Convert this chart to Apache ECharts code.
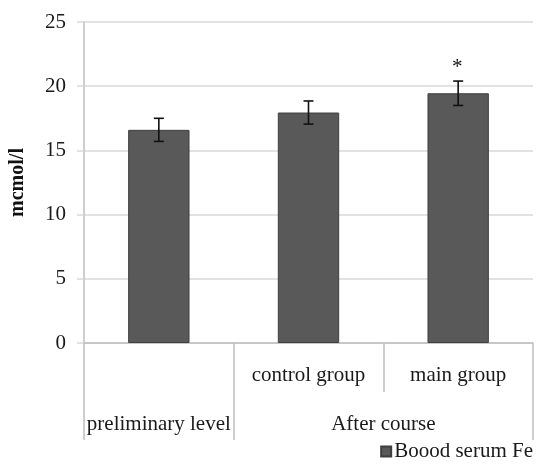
<!DOCTYPE html>
<html>
<head>
<meta charset="utf-8">
<script src="https://cdn.jsdelivr.net/npm/echarts@6/dist/echarts.min.js"></script>
<style>
html,body{margin:0;padding:0;background:#fff;}
#chart{width:536px;height:469px;}
</style>
</head>
<body>
<div id="chart"></div>
<script>
// ---- data ----
var categoryLabels = ['', 'control group', 'main group'];
var groupLabels = ['preliminary level', 'After course'];
var groupSpans = [1, 2];
var seriesName = 'Boood serum Fe';
var values = [16.6, 17.95, 19.45];
var errors = [0.9, 0.9, 0.95];
var annotations = ['', '', '*'];
var yTicks = [0, 5, 10, 15, 20, 25];

// group boundaries & centres derived from spans
var groupBounds = [0];
var groupCenters = [];
(function(){
  var acc = 0;
  for (var i = 0; i < groupSpans.length; i++) {
    groupCenters.push(acc + groupSpans[i] / 2);
    acc += groupSpans[i];
    groupBounds.push(acc);
  }
})();

var FONT = '"Liberation Serif", "Times New Roman", serif';
var TXT = '#1a1a1a';
var AXIS = '#bfbfbf';

var chart = echarts.init(document.getElementById('chart'), null, {renderer: 'canvas'});
var errData = values.map(function(v, i){ return [i, v, errors[i]]; });

chart.setOption({
  backgroundColor: '#ffffff',
  animation: false,
  grid: {left: 84, right: 3, top: 22, bottom: 126, containLabel: false},
  legend: {
    data: [seriesName],
    right: -2,
    bottom: 2,
    itemWidth: 10,
    itemHeight: 10,
    icon: 'rect',
    textStyle: {fontFamily: FONT, fontSize: 21, color: TXT, padding: [0, 0, 0, -2]}
  },
  xAxis: [{
    type: 'category',
    data: categoryLabels,
    position: 'bottom',
    axisLine: {show: true, lineStyle: {color: AXIS, width: 1.5}},
    axisTick: {show: true, interval: 0, length: 49, lineStyle: {color: AXIS, width: 1.5}},
    axisLabel: {interval: 0, margin: 22, fontFamily: FONT, fontSize: 21, color: TXT},
    splitLine: {show: false}
  }, {
    type: 'value',
    min: 0,
    max: categoryLabels.length,
    position: 'bottom',
    offset: 49,
    axisLine: {show: false},
    axisTick: {show: true, customValues: groupBounds, length: 48, lineStyle: {color: AXIS, width: 1.5}},
    axisLabel: {
      customValues: groupCenters,
      margin: 22,
      fontFamily: FONT, fontSize: 21, color: TXT,
      formatter: function(v){
        for (var i = 0; i < groupCenters.length; i++) {
          if (Math.abs(groupCenters[i] - v) < 1e-6) return groupLabels[i];
        }
        return '';
      }
    },
    splitLine: {show: false}
  }],
  yAxis: {
    type: 'value',
    min: yTicks[0],
    max: yTicks[yTicks.length - 1],
    interval: yTicks[1] - yTicks[0],
    name: 'mcmol/l',
    nameLocation: 'middle',
    nameRotate: 90,
    nameGap: 56,
    nameTextStyle: {fontFamily: FONT, fontSize: 20, fontWeight: 'bold', color: '#111'},
    axisLine: {show: true, lineStyle: {color: AXIS, width: 1.5}},
    axisTick: {show: true, length: 7, lineStyle: {color: '#d9d9d9', width: 1.5}},
    axisLabel: {margin: 18, fontFamily: FONT, fontSize: 21, color: TXT},
    splitLine: {show: true, lineStyle: {color: '#d9d9d9', width: 1.5}}
  },
  series: [{
    name: seriesName,
    type: 'bar',
    xAxisIndex: 0,
    data: values,
    barWidth: '41%',
    itemStyle: {color: '#595959', borderColor: '#3f3f3f', borderWidth: 1}
  }, {
    name: 'err',
    type: 'custom',
    xAxisIndex: 0,
    data: errData,
    encode: {x: 0, y: 1},
    z: 10,
    renderItem: function(params, api){
      var i = api.value(0), v = api.value(1), e = api.value(2);
      var top = api.coord([i, v + e]);
      var bot = api.coord([i, v - e]);
      var cap = 5;
      var style = {stroke: '#111', lineWidth: 1.6};
      var children = [
        {type: 'line', shape: {x1: top[0], y1: top[1], x2: bot[0], y2: bot[1]}, style: style},
        {type: 'line', shape: {x1: top[0] - cap, y1: top[1], x2: top[0] + cap, y2: top[1]}, style: style},
        {type: 'line', shape: {x1: bot[0] - cap, y1: bot[1], x2: bot[0] + cap, y2: bot[1]}, style: style}
      ];
      var ann = annotations[params.dataIndex];
      if (ann) {
        children.push({type: 'text', style: {text: ann, x: top[0] - 1, y: top[1] - 3, align: 'center', verticalAlign: 'bottom', fontFamily: FONT, fontSize: 21, fill: '#111'}});
      }
      return {type: 'group', children: children};
    }
  }]
});
</script>
</body>
</html>
